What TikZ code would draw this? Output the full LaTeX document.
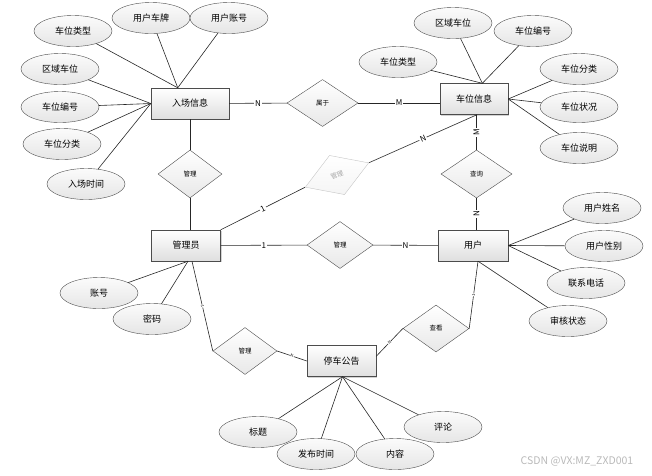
\documentclass[tikz,border=0pt]{standalone}
\usepackage{fontspec}
\setmainfont{Noto Sans CJK SC}
\usetikzlibrary{shapes.geometric,shadows}

\tikzset{
  entity/.style={rectangle,draw=gray!60!black,top color=white,bottom color=gray!25,
    minimum width=69pt,minimum height=31pt,inner sep=0pt,font=\fontsize{9}{9}\selectfont,
    drop shadow={shadow xshift=1pt,shadow yshift=-1pt,opacity=.35}},
  attr/.style={ellipse,draw=gray!60!black,top color=gray!3,bottom color=gray!20,
    minimum width=78pt,minimum height=31pt,inner sep=0pt,font=\fontsize{9}{9}\selectfont},
  rel/.style={diamond,draw=gray!60!black,top color=white,bottom color=gray!18,
    minimum width=66pt,minimum height=47pt,inner sep=0pt,font=\fontsize{6.5}{6.5}\selectfont},
  card/.style={fill=white,inner sep=1pt,font=\fontsize{8}{8}\selectfont},
  tick/.style={fill=white,inner sep=.3pt,font=\fontsize{4}{4}\selectfont,sloped},
  conn/.style={draw=gray!30!black,line width=.6pt}
}

\begin{document}
\begin{tikzpicture}[x=1pt,y=-1pt]
  \useasboundingbox (0,0) rectangle (652,475);

  \node[entity,minimum width=78pt] (rc) at (190,103.5) {入场信息};
  \node[entity,minimum width=68pt] (cw) at (474,99) {车位信息};
  \node[entity] (gly) at (186,245.5) {管理员};
  \node[entity,minimum width=70pt] (yh) at (473,245.5) {用户};
  \node[entity] (tg) at (341.5,361) {停车公告};

  \node[rel,minimum width=71pt] (sy) at (322.5,103) {属于};
  \node[rel,minimum width=64pt,minimum height=48pt] (gl1) at (190,174) {管理};
  \node[rel,rotate=21,minimum width=68pt,minimum height=42pt,draw=gray!45,
    top color=white,bottom color=gray!8,text=gray!70] (gl2) at (337,175) {管理};
  \node[rel,minimum width=71pt,minimum height=48pt] (cx) at (476.5,174) {查询};
  \node[rel] (gl3) at (340,245) {管理};
  \node[rel] (ck) at (436,328.5) {查看};
  \node[rel,minimum width=64pt] (gl4) at (245,351) {管理};

  \node[attr] (rc1) at (73,31) {车位类型};
  \node[attr] (rc2) at (151,18) {用户车牌};
  \node[attr] (rc3) at (229,18) {用户账号};
  \node[attr] (rc4) at (60,69) {区域车位};
  \node[attr] (rc5) at (60,107) {车位编号};
  \node[attr] (rc6) at (62,144) {车位分类};
  \node[attr] (rc7) at (86,184) {入场时间};

  \node[attr] (cw1) at (453,23) {区域车位};
  \node[attr] (cw2) at (533,31) {车位编号};
  \node[attr] (cw3) at (398,62) {车位类型};
  \node[attr] (cw4) at (579,69) {车位分类};
  \node[attr] (cw5) at (579,107) {车位状况};
  \node[attr] (cw6) at (579,148) {车位说明};

  \node[attr] (yh1) at (602,208) {用户姓名};
  \node[attr] (yh2) at (604,246) {用户性别};
  \node[attr] (yh3) at (586,283) {联系电话};
  \node[attr] (yh4) at (568,321) {审核状态};

  \node[attr] (gly1) at (99,293) {账号};
  \node[attr] (gly2) at (152,319) {密码};

  \node[attr] (tg1) at (258,432) {标题};
  \node[attr] (tg2) at (316,454) {发布时间};
  \node[attr] (tg3) at (395,454) {内容};
  \node[attr] (tg4) at (443,427) {评论};

  \foreach \a in {rc1,rc2,rc3} \draw[conn] (\a) -- (rc.128);
  \foreach \a in {rc4,rc5,rc6,rc7} \draw[conn] (\a) -- (rc.west);
  \foreach \a in {cw1,cw2,cw3} \draw[conn] (\a) -- (cw.62);
  \foreach \a in {cw4,cw5,cw6} \draw[conn] (\a) -- (cw.east);
  \foreach \a in {yh1,yh2,yh3} \draw[conn] (\a) -- (yh.east);
  \draw[conn] (yh4) -- ([xshift=5pt]yh.south);
  \foreach \a in {gly1,gly2} \draw[conn] (\a) -- ([xshift=2pt]gly.south);
  \foreach \a in {tg1,tg2,tg3,tg4} \draw[conn] (\a) -- ([xshift=1pt]tg.south);

  \draw[conn] (rc) -- node[card] {N} (sy);
  \draw[conn] (sy) -- node[card] {M} (sy -| cw.west);
  \draw[conn] (rc) -- (gl1);
  \draw[conn] (gl1.south) -- (gl1.south |- gly.north);
  \draw[conn] (cx.north |- cw.south) -- node[card,rotate=90] {M} (cx.north);
  \draw[conn] (cx.south) -- node[card,rotate=90] {N} (cx.south |- yh.north);
  \draw[conn] (gly.north east) -- node[card,sloped] {1} (gl2.west);
  \draw[conn] (gl2.east) -- node[card,sloped] {N} ([xshift=3pt]cw.south);
  \draw[conn] (gly) -- node[card] {1} (gl3);
  \draw[conn] (gl3) -- node[card] {N} (yh);
  \draw[conn] ([xshift=6pt]gly.south) -- node[tick] {1} (gl4.west);
  \draw[conn] (gl4.east) -- node[tick] {N} (tg.west);
  \draw[conn] ([xshift=5pt]yh.south) -- node[tick] {1} (ck.east);
  \draw[conn] (ck.west) -- node[tick] {N} ([yshift=-11pt]tg.north east);

  \node[font=\fontsize{10.5}{10.5}\selectfont,text=gray!55] (wm) at (577,461) {CSDN @VX:MZ\_ZXD001};
\end{tikzpicture}
\end{document}
